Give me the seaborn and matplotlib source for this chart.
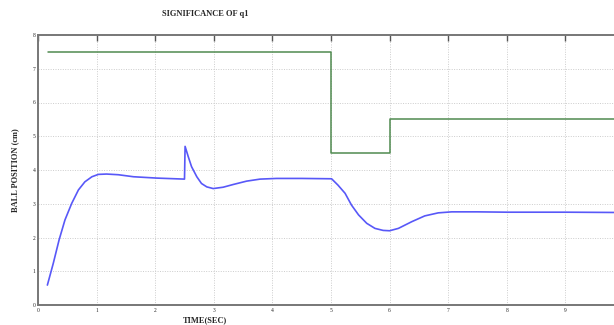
import numpy as np
import pandas as pd
import matplotlib
matplotlib.use("Agg")
import matplotlib.pyplot as plt
import seaborn as sns

# ball position response
time_ball = [0.16, 0.26, 0.36, 0.46, 0.575, 0.69, 0.80, 0.92, 1.03, 1.17, 1.37, 1.63, 2.03,
             2.5, 2.51, 2.565, 2.62, 2.71, 2.79, 2.88, 2.99, 3.16, 3.33, 3.56, 3.79, 4.07,
             4.5, 5.01, 5.12, 5.24, 5.35, 5.47, 5.61, 5.75, 5.89, 6.0, 6.15, 6.38, 6.6,
             6.83, 7.06, 7.5, 8.0, 9.0, 10.0]
ball_pos = [0.59, 1.23, 1.93, 2.52, 3.01, 3.41, 3.65, 3.8, 3.87, 3.88, 3.86, 3.8, 3.76,
            3.73, 4.70, 4.39, 4.1, 3.8, 3.6, 3.5, 3.45, 3.49, 3.57, 3.67, 3.73, 3.75,
            3.75, 3.74, 3.55, 3.31, 2.96, 2.67, 2.42, 2.27, 2.21, 2.2, 2.27, 2.47, 2.64,
            2.73, 2.76, 2.76, 2.75, 2.75, 2.74]

# reference set point (step)
time_ref = [0.17, 5.0, 6.0, 10.0]
ref_pos = [7.5, 4.5, 5.5, 5.5]

x_ticks = list(range(0, 10))
y_ticks = list(range(0, 9))

sns.set_style("whitegrid")
plt.rcParams['font.family'] = ['Liberation Serif', 'DejaVu Serif']

fig = plt.figure(figsize=(6.14, 3.25), dpi=100)
# axes runs a bit past the right edge, like the cropped original
ax = fig.add_axes([38 / 614, 20 / 325, 586 / 614, 270 / 325])

ball_df = pd.DataFrame({"t": time_ball, "pos": ball_pos})
ref_df = pd.DataFrame({"t": time_ref, "pos": ref_pos})

sns.lineplot(data=ref_df, x="t", y="pos", ax=ax, color="#4f8a4f", lw=1.1,
             drawstyle="steps-post", estimator=None, sort=False)
sns.lineplot(data=ball_df, x="t", y="pos", ax=ax, color="#5858f8", lw=1.2,
             estimator=None, sort=False)

ax.set_xlim(0, 10)
ax.set_ylim(0, 8)
ax.set_xticks(x_ticks)
ax.set_yticks(y_ticks)
ax.tick_params(axis="both", labelsize=4, direction="in", length=4, width=1,
               color="#555555", pad=2, top=True, right=False)
ax.grid(True, linestyle=(0, (1, 1.5)), color="#cccccc", lw=0.7)

for side in ["left", "bottom", "top"]:
    ax.spines[side].set_color("#777777")
    ax.spines[side].set_linewidth(1.4)
ax.spines["right"].set_visible(False)

ax.set_xlabel("")
ax.set_ylabel("")
fig.text(205 / 614, 1 - 14 / 325, "SIGNIFICANCE OF q1", ha="center", va="center",
         fontsize=6, fontweight="bold")
fig.text(205 / 614, 1 - 320 / 325, "TIME(SEC)", ha="center", va="center",
         fontsize=6, fontweight="bold")
fig.text(15 / 614, 1 - 170 / 325, "BALL POSITION (cm)", ha="center", va="center",
         rotation=90, fontsize=6, fontweight="bold")

fig.savefig("out.png", dpi=100)
